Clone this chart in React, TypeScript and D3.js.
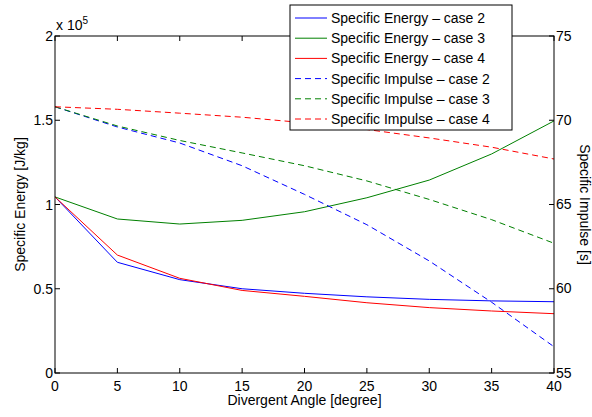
import React from "react";
import * as d3 from "d3";

const angles = [0, 5, 10, 15, 20, 25, 30, 35, 40];
const energyCase2 = [1.045, 0.657, 0.554, 0.5, 0.473, 0.452, 0.437, 0.428, 0.423];
const energyCase3 = [1.045, 0.914, 0.884, 0.906, 0.957, 1.04, 1.145, 1.3, 1.496];
const energyCase4 = [1.045, 0.7, 0.562, 0.49, 0.455, 0.417, 0.388, 0.368, 0.352];
const impulseCase2 = [70.8, 69.6, 68.65, 67.3, 65.6, 63.8, 61.65, 59.2, 56.56];
const impulseCase3 = [70.8, 69.66, 68.8, 68.06, 67.3, 66.4, 65.3, 64.1, 62.7];
const impulseCase4 = [70.8, 70.65, 70.42, 70.18, 69.85, 69.45, 68.95, 68.4, 67.7];

const xTicks = [0, 5, 10, 15, 20, 25, 30, 35, 40];
const leftTicks = [0, 0.5, 1, 1.5, 2];
const leftTickLabels = ["0", "0.5", "1", "1.5", "2"];
const rightTicks = [55, 60, 65, 70, 75];

const legendLabels = [
  "Specific Energy \u2013 case 2",
  "Specific Energy \u2013 case 3",
  "Specific Energy \u2013 case 4",
  "Specific Impulse \u2013 case 2",
  "Specific Impulse \u2013 case 3",
  "Specific Impulse \u2013 case 4",
];

export default function App() {
  const W = 592, H = 417;
  const L = 55, R = 554, T = 36, B = 373;
  const x = d3.scaleLinear().domain([0, 40]).range([L, R]);
  const yL = d3.scaleLinear().domain([0, 2]).range([B, T]);
  const yR = d3.scaleLinear().domain([55, 75]).range([B, T]);
  const font = "Liberation Sans, Arial, Helvetica, sans-serif";
  const fs = 14;

  const lineL = d3.line<number>().x((_, i) => x(angles[i])).y((d) => yL(d));
  const lineR = d3.line<number>().x((_, i) => x(angles[i])).y((d) => yR(d));

  const series = [
    { d: lineL(energyCase2), color: "#0000ff", dash: undefined },
    { d: lineL(energyCase3), color: "#008000", dash: undefined },
    { d: lineL(energyCase4), color: "#ff0000", dash: undefined },
    { d: lineR(impulseCase2), color: "#0000ff", dash: "6,4" },
    { d: lineR(impulseCase3), color: "#008000", dash: "6,4" },
    { d: lineR(impulseCase4), color: "#ff0000", dash: "6,4" },
  ];

  const tl = 5;
  const legX = 290, legY = 5, legW = 222, legH = 125;

  return (
    <svg width={W} height={H} style={{ position: "absolute", left: 0, top: 0 }} fontFamily={font}>
      <rect width={W} height={H} fill="#fff" />
      {series.map((s, i) => (
        <path key={i} d={s.d || ""} fill="none" stroke={s.color} strokeWidth={1} strokeDasharray={s.dash} />
      ))}
      <rect x={L} y={T} width={R - L} height={B - T} fill="none" stroke="#000" strokeWidth={1} />
      {xTicks.map((t) => (
        <g key={"x" + t}>
          <line x1={x(t)} x2={x(t)} y1={B} y2={B - tl} stroke="#000" />
          <line x1={x(t)} x2={x(t)} y1={T} y2={T + tl} stroke="#000" />
          <text x={x(t)} y={B + 17.5} fontSize={fs} textAnchor="middle">{t}</text>
        </g>
      ))}
      {leftTicks.map((t, i) => (
        <g key={"l" + t}>
          <line x1={L} x2={L + tl} y1={yL(t)} y2={yL(t)} stroke="#000" />
          <text x={L - 2} y={yL(t) + 5} fontSize={fs} textAnchor="end">{leftTickLabels[i]}</text>
        </g>
      ))}
      {rightTicks.map((t) => (
        <g key={"r" + t}>
          <line x1={R} x2={R - tl} y1={yR(t)} y2={yR(t)} stroke="#000" />
          <text x={R + 2} y={yR(t) + 4.5} fontSize={fs} textAnchor="start">{t}</text>
        </g>
      ))}
      <text x={L + 1} y={T - 6} fontSize={fs}>
        x 10<tspan fontSize={10} dy={-6}>5</tspan>
      </text>
      <text x={(L + R) / 2} y={B + 32} fontSize={fs} textAnchor="middle">Divergent Angle [degree]</text>
      <text transform={`translate(25,${(T + B) / 2}) rotate(-90)`} fontSize={fs} textAnchor="middle">Specific Energy [J/kg]</text>
      <text transform={`translate(580,${(T + B) / 2}) rotate(90)`} fontSize={fs} textAnchor="middle">Specific Impulse [s]</text>
      <rect x={legX} y={legY} width={legW} height={legH} fill="#fff" stroke="#000" strokeWidth={1} />
      {legendLabels.map((lab, i) => {
        const yy = legY + 13 + i * 20.2;
        return (
          <g key={lab}>
            <line x1={legX + 5} x2={legX + 37} y1={yy} y2={yy} stroke={series[i].color} strokeDasharray={series[i].dash} />
            <text x={legX + 41} y={yy + 5} fontSize={fs}>{lab}</text>
          </g>
        );
      })}
    </svg>
  );
}
